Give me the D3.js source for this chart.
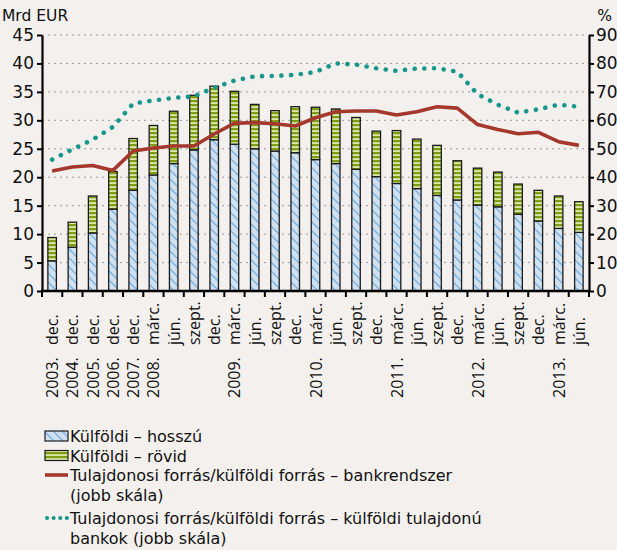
<!DOCTYPE html>
<html><head><meta charset="utf-8">
<script src="https://cdn.jsdelivr.net/npm/d3@7"></script>
<style>
html,body{margin:0;padding:0;background:#f3f0ed;}
svg{display:block;font-family:"Open Sans",sans-serif;}
</style></head><body>
<svg id="c" width="617" height="550"></svg>
<script>
// ---- data ----
const years  = ["2003.","2004.","2005.","2006.","2007.","2008.","","","","2009.","","","","2010.","","","","2011.","","","","2012.","","","","2013.",""];
const months = ["dec.","dec.","dec.","dec.","dec.","márc.","jún.","szept.","dec.","márc.","jún.","szept.","dec.","márc.","jún.","szept.","dec.","márc.","jún.","szept.","dec.","márc.","jún.","szept.","dec.","márc.","jún."];
const longTerm  = [5.3,7.7,10.2,14.4,17.7,20.4,22.4,24.8,26.6,25.8,25.0,24.6,24.3,23.1,22.4,21.4,20.1,18.9,18.0,16.8,16.0,15.1,14.8,13.5,12.3,11.0,10.3];
const shortTerm = [4.1,4.4,6.5,6.6,9.1,8.7,9.2,9.6,9.4,9.3,7.8,7.1,8.1,9.2,9.6,9.1,8.0,9.3,8.7,8.8,6.9,6.5,6.1,5.3,5.4,5.7,5.4];
const ratioBanking = [42.2,43.6,44.1,42.4,49.2,50.3,51.0,51.0,55.2,59.0,59.2,58.8,58.0,60.9,63.0,63.3,63.3,61.9,63.0,64.8,64.3,58.5,56.8,55.3,55.8,52.5,51.2];
const ratioForeign = [46.2,49.8,53.2,57.7,65.9,67.0,67.9,68.4,71.5,74.0,75.5,75.6,76.0,77.0,80.0,79.6,78.3,77.4,78.2,78.3,77.1,69.2,65.5,62.7,63.9,65.5,64.8];
const leftTicks  = [0,5,10,15,20,25,30,35,40,45];
const rightTicks = [0,10,20,30,40,50,60,70,80,90];
const legendLabels = ["Külföldi – hosszú","Külföldi – rövid","Tulajdonosi forrás/külföldi forrás – bankrendszer","(jobb skála)","Tulajdonosi forrás/külföldi forrás – külföldi tulajdonú","bankok (jobb skála)"];
const leftUnit = "Mrd EUR", rightUnit = "%";

// ---- layout ----
const L = 42, R = 589, T = 35, B = 291;
const svg = d3.select("#c");
const idx = d3.range(months.length);
const x = d3.scaleBand().domain(idx).range([L, R]).paddingInner(0.58).paddingOuter(0.29);
const step = x.step();
const yL = d3.scaleLinear().domain([0,45]).range([B,T]);
const yR = d3.scaleLinear().domain([0,90]).range([B,T]);
const cx = i => x(i) + x.bandwidth()/2;
const DV = "'DejaVu Sans',sans-serif";

// patterns
const defs = svg.append("defs");
const hatch = defs.append("pattern").attr("id","hatch").attr("patternUnits","userSpaceOnUse").attr("width",9).attr("height",9);
hatch.append("rect").attr("width",9).attr("height",9).attr("fill","#cfe1f1");
hatch.append("path").attr("d","M0,0L9,9M-2,7L2,11M7,-2L11,2").attr("stroke","#7eb1da").attr("stroke-width",1.4);
const stripe = defs.append("pattern").attr("id","stripe").attr("patternUnits","userSpaceOnUse").attr("width",4).attr("height",4);
stripe.append("rect").attr("width",4).attr("height",4).attr("fill","#dbe8a8");
stripe.append("rect").attr("width",4).attr("height",2.2).attr("fill","#7f9c17");

// gridlines
svg.append("g").selectAll("line").data(leftTicks.filter(d=>d>0)).join("line")
  .attr("x1",L).attr("x2",R).attr("y1",d=>yL(d)).attr("y2",d=>yL(d))
  .attr("stroke","#9a9a9a").attr("stroke-width",1).attr("stroke-dasharray","2,4");

// bars
const bars = svg.append("g");
bars.selectAll(".lt").data(idx).join("rect")
  .attr("x",i=>x(i)).attr("width",x.bandwidth())
  .attr("y",i=>yL(longTerm[i])).attr("height",i=>yL(0)-yL(longTerm[i]))
  .attr("fill","url(#hatch)").attr("stroke","#1b1b1b").attr("stroke-width",1.3);
bars.selectAll(".st").data(idx).join("rect")
  .attr("x",i=>x(i)).attr("width",x.bandwidth())
  .attr("y",i=>yL(longTerm[i]+shortTerm[i])).attr("height",i=>yL(longTerm[i])-yL(longTerm[i]+shortTerm[i]))
  .attr("fill","url(#stripe)").attr("stroke","#1b1b1b").attr("stroke-width",1.3);

// lines
const lineR = d3.line().x(i=>cx(i)).y(i=>yR(ratioBanking[i]));
const lineT = d3.line().x(i=>cx(i)).y(i=>yR(ratioForeign[i]));
svg.append("path").attr("d",lineR(idx)).attr("fill","none").attr("stroke","#a5382c").attr("stroke-width",3.6).attr("stroke-linejoin","round");
svg.append("path").attr("d",lineT(idx)).attr("fill","none").attr("stroke","#18978a").attr("stroke-width",4.6)
  .attr("stroke-linecap","round").attr("stroke-dasharray","0.1,9.6");

// axes
const axL = svg.append("g").attr("transform",`translate(${L},0)`)
  .call(d3.axisLeft(yL).tickValues(leftTicks).tickSize(5).tickSizeOuter(0));
const axR = svg.append("g").attr("transform",`translate(${R},0)`)
  .call(d3.axisRight(yR).tickValues(rightTicks).tickSize(5).tickSizeOuter(0));
[axL,axR].forEach(a=>{
  a.select(".domain").attr("stroke","#000").attr("stroke-width",2.2);
  a.selectAll(".tick line").attr("stroke","#000").attr("stroke-width",2);
  a.selectAll(".tick text").attr("font-size",17).attr("font-family",DV).attr("fill","#111");
});
axL.selectAll(".tick text").attr("x",-8);
axR.selectAll(".tick text").attr("x",7);

// bottom axis
const boundaries = d3.range(months.length+1);
svg.append("line").attr("x1",L-1).attr("x2",R+1).attr("y1",B).attr("y2",B).attr("stroke","#000").attr("stroke-width",2.4);
svg.append("g").selectAll("line").data(boundaries).join("line")
  .attr("x1",k=>L+k*step).attr("x2",k=>L+k*step).attr("y1",B).attr("y2",B+6)
  .attr("stroke","#000").attr("stroke-width",2);

// x labels
const xl = svg.append("g").attr("font-size",16).attr("fill","#111");
xl.selectAll(".m").data(idx).join("text")
  .attr("transform",i=>`translate(${cx(i)+6},345) rotate(-90)`).text(i=>months[i]);
xl.selectAll(".y").data(idx.filter(i=>years[i])).join("text")
  .attr("transform",i=>`translate(${cx(i)+6},398) rotate(-90)`).text(i=>years[i]);

// units
svg.append("text").attr("x",2).attr("y",20.5).attr("font-size",15.5).attr("font-family",DV).attr("fill","#111").text(leftUnit);
svg.append("text").attr("x",612).attr("y",20.5).attr("text-anchor","end").attr("font-size",15.5).attr("font-family",DV).attr("fill","#111").text(rightUnit);

// legend
const lg = svg.append("g");
const rows = [442,461.5,481,500.5,524,543.5];
const sx = 45, sw = 23, tx = 70;
lg.append("rect").attr("x",sx).attr("y",rows[0]-11).attr("width",sw).attr("height",10).attr("fill","url(#hatch)").attr("stroke","#1b1b1b").attr("stroke-width",1.2);
lg.append("rect").attr("x",sx).attr("y",rows[1]-11).attr("width",sw).attr("height",10).attr("fill","url(#stripe)").attr("stroke","#1b1b1b").attr("stroke-width",1.2);
lg.append("line").attr("x1",sx).attr("x2",sx+sw).attr("y1",rows[2]-6).attr("y2",rows[2]-6).attr("stroke","#a5382c").attr("stroke-width",3.6);
lg.append("line").attr("x1",sx+2).attr("x2",sx+sw+1).attr("y1",rows[4]-6).attr("y2",rows[4]-6).attr("stroke","#18978a").attr("stroke-width",4)
  .attr("stroke-linecap","round").attr("stroke-dasharray","0.1,6.5");
lg.selectAll("text").data(legendLabels).join("text")
  .attr("x",tx).attr("y",(d,i)=>rows[i]).attr("font-size",16).attr("font-family",DV).attr("fill","#111").text(d=>d);
</script>
</body></html>
